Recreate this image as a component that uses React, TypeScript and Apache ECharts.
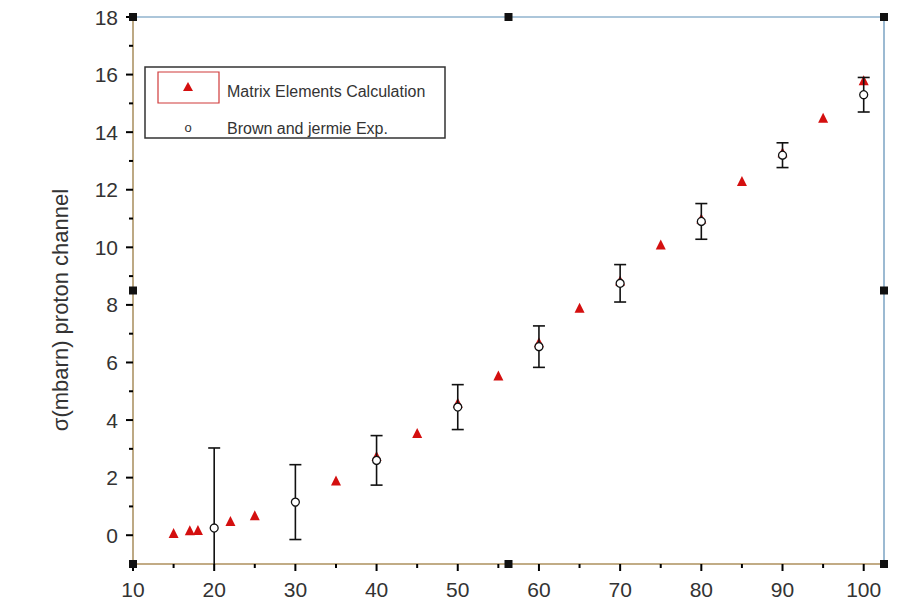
import React, { useEffect, useRef } from "react";
import * as echarts from "echarts";

const calcX = [15, 17, 18, 22, 25, 35, 40, 45, 50, 55, 60, 65, 70, 75, 80, 85, 90, 95, 100];
const calcY = [0.08, 0.17, 0.18, 0.49, 0.69, 1.9, 2.75, 3.55, 4.6, 5.55, 6.7, 7.9, 8.85, 10.1, 11.0, 12.3, 13.3, 14.5, 15.8];

const expX = [20, 30, 40, 50, 60, 70, 80, 90, 100];
const expY = [0.25, 1.15, 2.6, 4.45, 6.55, 8.75, 10.9, 13.2, 15.3];
const expErr = [2.78, 1.3, 0.86, 0.78, 0.72, 0.65, 0.62, 0.43, 0.6];

const xMajor = [10, 20, 30, 40, 50, 60, 70, 80, 90, 100];
const xMinor = [15, 25, 35, 45, 55, 65, 75, 85, 95];
const yMajor = [0, 2, 4, 6, 8, 10, 12, 14, 16, 18];
const yMinor = [1, 3, 5, 7, 9, 11, 13, 15, 17];

const seriesNames = ["Matrix Elements Calculation", "Brown and jermie Exp."];
const yName = "σ(mbarn) proton channel";

const FONT = "Arial, Liberation Sans, sans-serif";

const G = { left: 133, right: 17, top: 17, bottom: 43 };
const W = 901;
const H = 607;
const X_RANGE = { min: 10, max: 102.5 };
const Y_RANGE = { min: -1, max: 18 };
const MAJOR_LEN = 7;
const MINOR_LEN = 4;
const TICK_W = 2;

export default function App() {
  const ref = useRef<HTMLDivElement>(null);

  useEffect(() => {
    if (!ref.current) return;
    const chart = echarts.init(ref.current, undefined, { renderer: "svg" });

    const x0 = G.left;
    const x1 = W - G.right;
    const y0 = G.top;
    const y1 = H - G.bottom;
    const xm = (x0 + x1) / 2;
    const ym = (y0 + y1) / 2;
    const hs = 8;
    const handlePts = [
      [x0, y0], [xm, y0], [x1, y0],
      [x0, ym], [x1, ym],
      [x0, y1], [xm, y1], [x1, y1],
    ];
    const handles = handlePts.map((p) => ({
      type: "rect",
      shape: { x: p[0] - hs / 2, y: p[1] - hs / 2, width: hs, height: hs },
      style: { fill: "#111" },
      z: 100,
    }));

    const legend = [
      {
        type: "rect",
        shape: { x: 145, y: 67, width: 300, height: 71 },
        style: { fill: "#fff", stroke: "#333", lineWidth: 1.5 },
        z: 90,
      },
      {
        type: "rect",
        shape: { x: 158, y: 72, width: 61, height: 31 },
        style: { fill: "none", stroke: "#d03a3a", lineWidth: 1.2 },
        z: 91,
      },
      {
        type: "polygon",
        shape: { points: [[188, 82], [183, 91], [193, 91]] },
        style: { fill: "#d40f0f" },
        z: 91,
      },
      {
        type: "text",
        x: 227,
        y: 91,
        style: { text: seriesNames[0], fontSize: 16, fill: "#333", fontFamily: FONT, verticalAlign: "middle" },
        z: 91,
      },
      {
        type: "text",
        x: 188,
        y: 127,
        style: { text: "o", fontSize: 13, fill: "#333", fontFamily: FONT, align: "center", verticalAlign: "middle" },
        z: 91,
      },
      {
        type: "text",
        x: 227,
        y: 128,
        style: { text: seriesNames[1], fontSize: 16, fill: "#333", fontFamily: FONT, verticalAlign: "middle" },
        z: 91,
      },
    ];

    const yTitle = {
      type: "text",
      x: 60,
      y: 310,
      rotation: Math.PI / 2,
      style: { text: yName, fontSize: 22, fill: "#333", fontFamily: FONT, align: "center", verticalAlign: "middle" },
      z: 50,
    };

    const option: any = {
      animation: false,
      backgroundColor: "#fff",
      grid: {
        left: G.left,
        right: G.right,
        top: G.top,
        bottom: G.bottom,
        show: true,
        borderColor: "#5b8db5",
        borderWidth: 1.2,
        backgroundColor: "transparent",
      },
      xAxis: {
        type: "value",
        min: X_RANGE.min,
        max: X_RANGE.max,
        axisLine: { show: true, onZero: false, lineStyle: { color: "#c9a36a", width: 1.5 } },
        axisTick: { show: false },
        axisLabel: { customValues: xMajor, fontSize: 21, color: "#333", margin: 15, fontFamily: FONT },
        splitLine: { show: false },
      },
      yAxis: {
        type: "value",
        min: Y_RANGE.min,
        max: Y_RANGE.max,
        axisLine: { show: true, onZero: false, lineStyle: { color: "#c9a36a", width: 1.5 } },
        axisTick: { show: false },
        axisLabel: { customValues: yMajor, fontSize: 21, color: "#333", margin: 15, fontFamily: FONT },
        splitLine: { show: false },
      },
      series: [
        {
          name: seriesNames[0],
          type: "scatter",
          clip: false,
          symbol: "triangle",
          symbolSize: 10,
          itemStyle: { color: "#d40f0f", opacity: 1 },
          data: calcX.map((x, i) => [x, calcY[i]]),
          z: 2,
        },
        {
          name: "err",
          type: "custom",
          clip: false,
          renderItem: (params: any, api: any) => {
            const x = api.value(0);
            const y = api.value(1);
            const e = api.value(2);
            const hiV = Math.min(y + e, Y_RANGE.max);
            const loV = Math.max(y - e, Y_RANGE.min);
            const top = api.coord([x, hiV]);
            const bot = api.coord([x, loV]);
            const w = 6;
            const children: any[] = [
              { type: "line", shape: { x1: top[0], y1: top[1], x2: bot[0], y2: bot[1] }, style: { stroke: "#111", lineWidth: 1.6 } },
            ];
            if (hiV === y + e) {
              children.push({ type: "line", shape: { x1: top[0] - w, y1: top[1], x2: top[0] + w, y2: top[1] }, style: { stroke: "#111", lineWidth: 1.6 } });
            }
            if (loV === y - e) {
              children.push({ type: "line", shape: { x1: bot[0] - w, y1: bot[1], x2: bot[0] + w, y2: bot[1] }, style: { stroke: "#111", lineWidth: 1.6 } });
            }
            return { type: "group", children };
          },
          encode: { x: 0, y: 1 },
          data: expX.map((x, i) => [x, expY[i], expErr[i]]),
          z: 3,
        },
        {
          name: seriesNames[1],
          type: "scatter",
          clip: false,
          symbol: "circle",
          symbolSize: 8,
          itemStyle: { color: "#ffffff", borderColor: "#111", borderWidth: 1.3, opacity: 1 },
          data: expX.map((x, i) => [x, expY[i]]),
          z: 4,
        },
      ],
    };

    chart.setOption(option);

    const tickRects: any[] = [];
    const addX = (values: number[], len: number) =>
      values.forEach((v) => {
        const p = chart.convertToPixel({ gridIndex: 0 }, [v, Y_RANGE.min]) as number[];
        tickRects.push({
          type: "rect",
          shape: { x: p[0] - TICK_W / 2, y: p[1], width: TICK_W, height: len },
          style: { fill: "#000" },
          z: 99,
        });
      });
    const addY = (values: number[], len: number) =>
      values.forEach((v) => {
        const p = chart.convertToPixel({ gridIndex: 0 }, [X_RANGE.min, v]) as number[];
        tickRects.push({
          type: "rect",
          shape: { x: p[0] - len, y: p[1] - TICK_W / 2, width: len, height: TICK_W },
          style: { fill: "#000" },
          z: 99,
        });
      });
    addX(xMajor, MAJOR_LEN);
    addX(xMinor, MINOR_LEN);
    addY(yMajor, MAJOR_LEN);
    addY(yMinor, MINOR_LEN);

    chart.setOption({ graphic: [...handles, ...legend, yTitle, ...tickRects] });

    return () => chart.dispose();
  }, []);

  return (
    <div
      ref={ref}
      style={{ position: "fixed", left: 0, top: 0, width: W, height: H, background: "#fff" }}
    />
  );
}
